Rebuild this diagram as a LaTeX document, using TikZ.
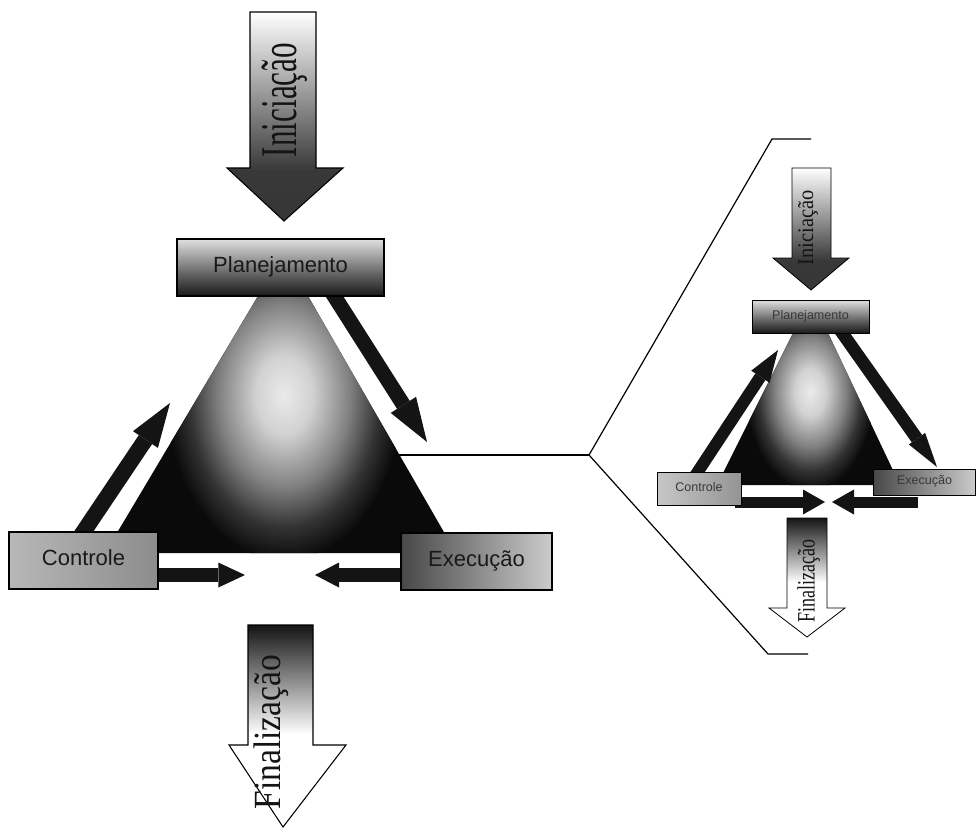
\documentclass[tikz,border=0pt]{standalone}
\usepackage{fontspec}
\setmainfont{Liberation Sans}
\newfontfamily\tms{Liberation Serif}
\usetikzlibrary{arrows.meta}
\pgfdeclareverticalshading{iniSh}{100bp}{color(0bp)=(black!80); color(37bp)=(black!78); color(75bp)=(white); color(100bp)=(white)}
\pgfdeclareverticalshading{finSh}{100bp}{color(0bp)=(white); color(48bp)=(white); color(75bp)=(black!92); color(100bp)=(black!92)}
\pgfdeclareverticalshading{planSh}{100bp}{color(0bp)=(black!90); color(25bp)=(black!90); color(42bp)=(black!65); color(75bp)=(black!12); color(100bp)=(black!12)}
\pgfdeclareradialshading{triSh}{\pgfpoint{0bp}{0bp}}{color(0bp)=(black!8); color(6bp)=(black!18); color(14bp)=(black!50); color(20bp)=(black!80); color(25bp)=(black!96); color(50bp)=(black!96)}
\tikzset{
  boxline/.style={draw=black, line width=0.8pt},
  bigbox/.style={boxline, shade, inner sep=0pt, minimum height=42.75pt,
    font=\fontsize{16.5}{18}\selectfont, text height=12pt, text depth=5pt, text=black!90},
  smallbox/.style={boxline, line width=0.6pt, shade, inner sep=0pt,
    font=\fontsize{9.4}{11}\selectfont, text height=7pt, text depth=3pt, text=black!78},
  fatarrow/.style n args={3}{line width=#1, draw=black!92,
    -{Triangle[length=#2, width=#3, line width=0pt]}},
  bracket/.style={draw=black, line width=0.9pt},
  wordart/.style={rotate=90, inner sep=0pt, text=black!92}
}
\begin{document}
\begin{tikzpicture}[x=0.75pt, y=-0.75pt]
\useasboundingbox (0,0) rectangle (978,829);

% ---------- bracket / zoom lines ----------
\coordinate (lnA) at (398,455);
\coordinate (vtx) at (589,455);
\coordinate (brT1) at (772,139);
\coordinate (brT2) at (811,139);
\coordinate (brB1) at (768,654);
\coordinate (brB2) at (808,654);
\draw[bracket] (lnA) -- (vtx);
\draw[bracket] (brT2) -- (brT1) -- (vtx) -- (brB1) -- (brB2);

% ---------- main triangle ----------
\begin{scope}
  \clip (258,296) -- (308,296) -- (456,553) -- (105,553) -- cycle;
  \fill[black!96] (100,290) rectangle (460,560);
  \shade[shading=triSh] (284,395) ellipse [x radius=118, y radius=165];
\end{scope}

% ---------- main arrows ----------
\coordinate (mPs) at (331,291);
\coordinate (mPe) at (427,442);
\coordinate (mCs) at (80,537);
\coordinate (mCe) at (170,403);
\coordinate (mBr1) at (150,575);
\coordinate (mBr2) at (245,575);
\coordinate (mBl1) at (410,575);
\coordinate (mBl2) at (315,575);
\draw[fatarrow={11.25pt}{33pt}{22.5pt}] (mPs) -- (mPe);
\draw[fatarrow={12pt}{33pt}{22.5pt}] (mCs) -- (mCe);
\draw[fatarrow={10.5pt}{20pt}{18.75pt}] (mBr1) -- (mBr2);
\draw[fatarrow={10.5pt}{18pt}{18.75pt}] (mBl1) -- (mBl2);

% ---------- main boxes ----------
\node[bigbox, shading=planSh, minimum width=155.25pt] (plan) at (280.5,267.5) {Planejamento};
\node[bigbox, left color=black!28, right color=black!45, minimum width=111.75pt] (ctrl) at (83.5,560.5) {Controle};
\node[bigbox, left color=black!72, right color=black!20, minimum width=113.25pt] (exec) at (476.5,561.5) {Execução};

% ---------- main Iniciação / Finalização ----------
\shadedraw[shading=iniSh, draw=black, line width=0.8pt]
  (250,12) -- (316,12) -- (316,168) -- (343,168) -- (284,221) -- (227,168) -- (250,168) -- cycle;
\node[wordart] (ini) at (285,100) {\resizebox{85.5pt}{26pt}{\tms Iniciação}};
\shadedraw[shading=finSh, draw=black, line width=0.8pt]
  (248,625) -- (313,625) -- (313,745) -- (346,745) -- (283,827) -- (229,745) -- (248,745) -- cycle;
\node[wordart] (fin) at (271,732) {\resizebox{116pt}{20pt}{\tms Finalização}};

% ---------- small triangle ----------
\begin{scope}
  \clip (793,333) -- (828,333) -- (900,485) -- (717,485) -- cycle;
  \fill[black!96] (710,330) rectangle (905,490);
  \shade[shading=triSh] (810,392) ellipse [x radius=64, y radius=98];
\end{scope}

% ---------- small arrows ----------
\coordinate (sPs) at (838,327);
\coordinate (sPe) at (937,467);
\coordinate (sCs) at (693,479);
\coordinate (sCe) at (778,350);
\coordinate (sBr1) at (735,502);
\coordinate (sBr2) at (825,502);
\coordinate (sBl1) at (918,502);
\coordinate (sBl2) at (832,502);
\draw[fatarrow={9.5pt}{26pt}{15pt}] (sPs) -- (sPe);
\draw[fatarrow={9pt}{24pt}{16.5pt}] (sCs) -- (sCe);
\draw[fatarrow={8.25pt}{16.5pt}{18.75pt}] (sBr1) -- (sBr2);
\draw[fatarrow={8.25pt}{16.5pt}{18.75pt}] (sBl1) -- (sBl2);

% ---------- small boxes ----------
\node[smallbox, shading=planSh, minimum width=87.75pt, minimum height=24.75pt] (splan) at (810.5,316.5) {Planejamento};
\node[smallbox, left color=black!22, right color=black!42, minimum width=63pt, minimum height=24.75pt] (sctrl) at (699,488.5) {Controle};
\node[smallbox, left color=black!72, right color=black!20, minimum width=77pt, minimum height=19.5pt] (sexec) at (924.5,482) {Execução};

% ---------- small Iniciação / Finalização ----------
\shadedraw[shading=iniSh, draw=black, line width=0.6pt]
  (792,168) -- (831,168) -- (831,258) -- (849,258) -- (811,290) -- (773,258) -- (792,258) -- cycle;
\node[wordart] (sini) at (808,228) {\resizebox{56pt}{11.25pt}{\tms Iniciação}};
\shadedraw[shading=finSh, draw=black, line width=0.6pt]
  (787,518) -- (827,518) -- (827,608) -- (845,608) -- (807,637) -- (769,608) -- (787,608) -- cycle;
\node[wordart] (sfin) at (808.5,581) {\resizebox{62pt}{13pt}{\tms Finalização}};
\end{tikzpicture}
\end{document}
